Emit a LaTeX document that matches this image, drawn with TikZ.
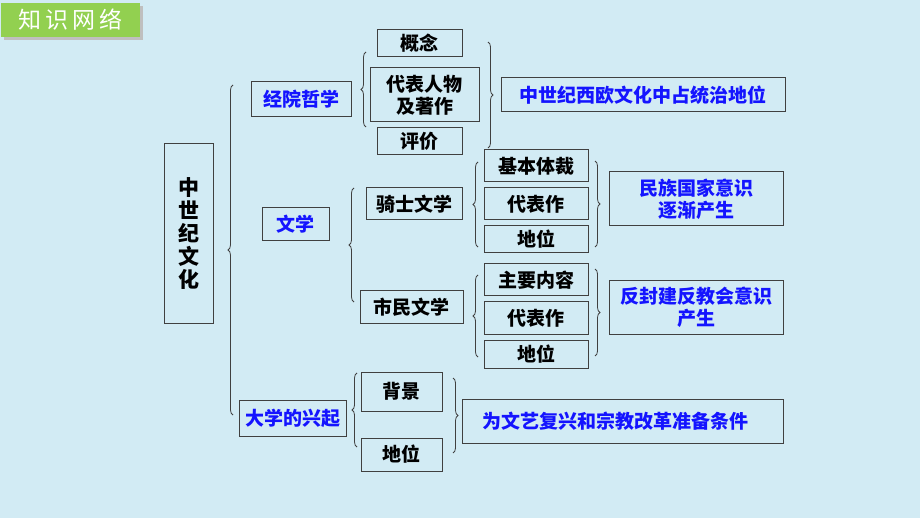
\documentclass[tikz,border=0pt]{standalone}
\usepackage{fontspec}
\setmainfont{Noto Sans CJK SC}
\usetikzlibrary{decorations.pathreplacing}
\definecolor{bgblue}{RGB}{210,235,244}
\definecolor{tabgreen}{RGB}{146,208,80}
\definecolor{boxline}{RGB}{64,64,64}
\definecolor{ztblue}{RGB}{20,20,255}
\tikzset{
    kuang/.style = {draw = boxline, line width = 1pt, inner sep = 0pt, align = center,
        font = \bfseries\fontsize{19}{22}\selectfont},
    lan/.style = {text = ztblue},
    curly/.style = {draw = boxline, line width = .8pt, decorate,
        decoration = {brace, amplitude = 5pt}}
}
\begin{document}
    \begin{tikzpicture}[
        x = 1pt,
        y = -1pt
    ]
        \fill[bgblue] (0, 0) rectangle (920, 518);
        \useasboundingbox (0, 0) rectangle (920, 518);
        \begin{scope}[shift={(0,0)}]
            \fill[black!25] (4, 6) rectangle (143, 40);
            \node[fill = tabgreen, minimum width = 139pt, minimum height = 34pt, inner sep = 0pt,
                text = white, font = \fontsize{23}{23}\selectfont] (tab) at (70.5, 20) {知\,识\,网\,络};
        \end{scope}
        \node[kuang, minimum width = 49pt, minimum height = 179pt,
            font = \bfseries\fontsize{21}{23}\selectfont] (zsj) at (188.5, 233.5) {中\\世\\纪\\文\\化};
        \node[kuang, lan, minimum width = 100pt, minimum height = 35pt] (jy) at (301, 99.5) {经院哲学};
        \node[kuang, lan, minimum width = 67pt, minimum height = 33pt] (wx) at (295.5, 224.5) {文学};
        \node[kuang, lan, minimum width = 107pt, minimum height = 36pt] (dx) at (292.5, 418) {大学的兴起};
        \node[kuang, minimum width = 85pt, minimum height = 27pt] (gn) at (419.5, 43.5) {概念};
        \node[kuang, minimum width = 109pt, minimum height = 54pt] (db) at (424.5, 95) {代表人物\\及著作};
        \node[kuang, minimum width = 85pt, minimum height = 27pt] (pj) at (419.5, 141.5) {评价};
        \node[kuang, lan, minimum width = 284pt, minimum height = 34pt] (tz) at (643, 95) {中世纪西欧文化中占统治地位};
        \node[kuang, minimum width = 96pt, minimum height = 32pt] (qs) at (414, 204) {骑士文学};
        \node[kuang, minimum width = 103pt, minimum height = 32pt] (sm) at (411.5, 307) {市民文学};
        \node[kuang, minimum width = 104pt, minimum height = 32pt] (qsjb) at (536, 166) {基本体裁};
        \node[kuang, minimum width = 104pt, minimum height = 32pt] (qsdb) at (536, 204) {代表作};
        \node[kuang, minimum width = 104pt, minimum height = 27pt] (qsdw) at (536, 239.5) {地位};
        \node[kuang, lan, minimum width = 174pt, minimum height = 54pt] (mz) at (696, 199) {民族国家意识\\逐渐产生};
        \node[kuang, minimum width = 104pt, minimum height = 32pt] (smzy) at (536, 280) {主要内容};
        \node[kuang, minimum width = 104pt, minimum height = 32pt] (smdb) at (536, 318) {代表作};
        \node[kuang, minimum width = 104pt, minimum height = 28pt] (smdw) at (536, 354) {地位};
        \node[kuang, lan, minimum width = 174pt, minimum height = 53pt] (ff) at (696, 307.5) {反封建反教会意识\\产生};
        \node[kuang, minimum width = 81pt, minimum height = 39pt] (bj) at (401.5, 391.5) {背景};
        \node[kuang, minimum width = 81pt, minimum height = 33pt] (dxdw) at (401.5, 454.5) {地位};
        \node[kuang, lan, minimum width = 321pt, minimum height = 44pt] (wy) at (622.5, 421) {为文艺复兴和宗教改革准备条件\hspace*{14pt}};
        \draw[curly] (233, 415) -- (233, 85);
        \draw[curly] (366, 127) -- (366, 52);
        \draw[curly] (488, 42) -- (488, 148);
        \draw[curly] (354, 302) -- (354, 188);
        \draw[curly] (478, 247) -- (478, 162);
        \draw[curly] (595, 161) -- (595, 247);
        \draw[curly] (478, 357) -- (478, 275);
        \draw[curly] (595, 269) -- (595, 356);
        \draw[curly] (357, 447) -- (357, 373);
        \draw[curly] (453, 378) -- (453, 453);
    \end{tikzpicture}
\end{document}
